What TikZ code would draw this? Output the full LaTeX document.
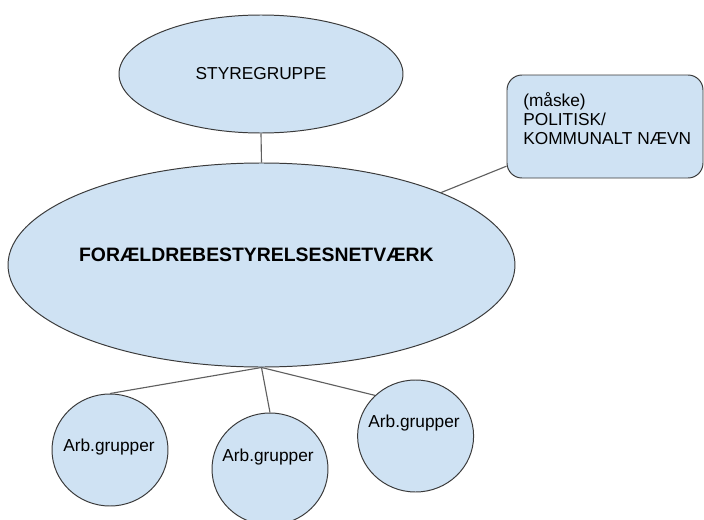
\documentclass[tikz,border=0pt]{standalone}
\usepackage{fontspec}
\setmainfont{Liberation Sans}
\usepackage{tikz}
\usetikzlibrary{arrows, shapes}

\definecolor{lightblue}{HTML}{CFE2F3}
\definecolor{bordergray}{HTML}{3A3A3A}
\definecolor{linegray}{HTML}{5F5F5F}

\begin{document}
\begin{tikzpicture}[
	blob/.style={ellipse, draw=bordergray, fill=lightblue, line width=0.7pt, inner sep=0pt},
	arb/.style={blob, minimum width=2.9cm, minimum height=2.8cm},
	link/.style={draw=linegray, line width=0.8pt},
	txt/.style={font=\fontsize{12.3}{13.5}\selectfont, inner sep=0pt}
]
	\useasboundingbox (0,0) rectangle (17.6,12.975);

	\node[blob, minimum width=7.1cm, minimum height=2.95cm, txt] (Styregruppe) at (6.525, 11.125) {STYREGRUPPE};

	\node[blob, minimum width=12.675cm, minimum height=5.1cm] (Netvaerk) at (6.5375, 6.35) {};
	\node[font=\fontsize{13.8}{16}\selectfont\bfseries, inner sep=0pt] (NetvaerkTekst) at (6.41, 6.6) {FORÆLDREBESTYRELSESNETVÆRK};

	\node[draw=bordergray, fill=lightblue, line width=0.7pt, rounded corners=0.375cm, minimum width=4.9cm, minimum height=2.575cm] (Naevn) at (15.125, 9.8125) {};
	\node[txt, align=left, anchor=west] (NaevnTekst) at (13.075, 10.0) {(måske)\\POLITISK/\\KOMMUNALT NÆVN};

	\node[arb] (Arb1) at (2.75, 1.725) {};
	\node[txt] (Arb1Tekst) at (2.725, 1.8) {Arb.grupper};
	\node[arb] (Arb2) at (6.75, 1.25) {};
	\node[txt] (Arb2Tekst) at (6.7, 1.55) {Arb.grupper};
	\node[arb] (Arb3) at (10.39, 2.075) {};
	\node[txt] (Arb3Tekst) at (10.35, 2.4) {Arb.grupper};

	\draw[link] (Styregruppe.south) -- (Netvaerk.north);
	\draw[link] (Netvaerk) -- (Naevn);
	\draw[link] (Netvaerk.south) -- (Arb1.north);
	\draw[link] (Netvaerk.south) -- (Arb2.north);
	\draw[link] (Netvaerk.south) -- (Arb3.135);
\end{tikzpicture}
\end{document}
